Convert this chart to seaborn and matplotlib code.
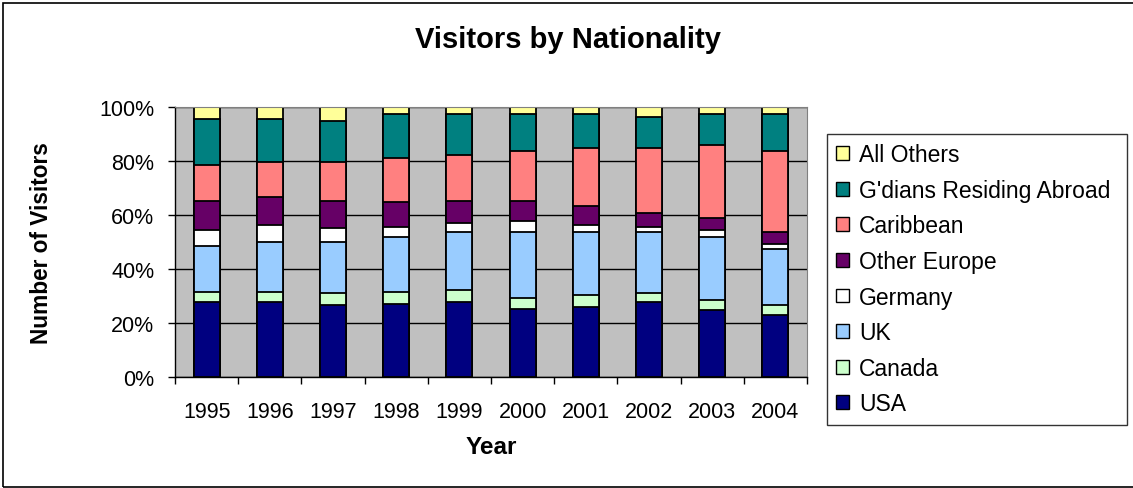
import matplotlib.pyplot as plt
import pandas as pd
import seaborn as sns
from matplotlib.patches import Patch, Rectangle

# data (share of visitors, %)
years = ["1995", "1996", "1997", "1998", "1999", "2000", "2001", "2002", "2003", "2004"]
usa = [27.8, 27.8, 26.5, 27.1, 27.8, 25.3, 25.9, 27.8, 24.8, 22.8]
canada = [3.8, 3.8, 4.5, 4.4, 4.3, 3.8, 4.3, 3.4, 3.6, 3.8]
uk = [17.0, 18.5, 19.1, 20.4, 21.7, 24.7, 23.6, 22.6, 23.5, 21.0]
germany = [5.8, 6.2, 5.0, 3.7, 3.4, 3.9, 2.5, 1.6, 2.5, 1.6]
other_europe = [10.7, 10.2, 10.2, 9.1, 8.1, 7.6, 7.1, 5.3, 4.5, 4.6]
caribbean = [13.5, 13.3, 14.5, 16.3, 17.0, 18.3, 21.5, 24.2, 27.2, 29.8]
gdians_abroad = [17.1, 15.9, 15.1, 16.5, 15.2, 13.9, 12.6, 11.4, 11.4, 13.9]
all_others = [4.3, 4.3, 5.1, 2.5, 2.5, 2.5, 2.5, 3.7, 2.5, 2.5]

series_names = ["USA", "Canada", "UK", "Germany", "Other Europe",
                "Caribbean", "G'dians Residing Abroad", "All Others"]
colors = ["#000080", "#CCFFCC", "#99CCFF", "#FFFFFF", "#660066",
          "#FF8080", "#008080", "#FFFF99"]

df = pd.DataFrame(
    [usa, canada, uk, germany, other_europe, caribbean, gdians_abroad, all_others],
    index=series_names, columns=years,
).T
# 100% stacked -> normalise and accumulate
df = df.div(df.sum(axis=1), axis=0) * 100
cum = df.cumsum(axis=1)

plt.rcParams["font.family"] = ["Liberation Sans", "DejaVu Sans"]

fig = plt.figure(figsize=(11.33, 4.89), dpi=100)
ax = fig.add_axes([0.1545, 0.227, 0.5578, 0.552])
ax.set_facecolor("#C0C0C0")

# draw from the top of the stack downward so each lower segment covers the rest
for name, color in reversed(list(zip(series_names, colors))):
    sns.barplot(
        x=years, y=cum[name].values, color=color, width=0.41,
        edgecolor="black", linewidth=1.3, saturation=1, ax=ax,
    )

ax.set_ylim(0, 100)
ax.set_xlim(-0.5, len(years) - 0.5)
ax.set_yticks(range(0, 101, 20))
ax.set_yticklabels([f"{v}%" for v in range(0, 101, 20)], fontsize=15.5)
ax.yaxis.grid(True, color="black", linewidth=1)
ax.set_axisbelow(True)

# excel style ticks between categories
ax.set_xticks(range(len(years)))
ax.set_xticklabels(years, fontsize=15.5)
ax.set_xticks([i - 0.5 for i in range(len(years) + 1)], minor=True)
ax.tick_params(axis="x", which="major", length=0, pad=17)
ax.tick_params(axis="x", which="minor", length=5, width=1, color="black")
ax.tick_params(axis="y", length=5, width=1, pad=10)

for side in ["top", "right"]:
    ax.spines[side].set_color("#808080")
    ax.spines[side].set_linewidth(0.8)
for side in ["left", "bottom"]:
    ax.spines[side].set_color("black")
    ax.spines[side].set_linewidth(1)
ax.set_xlabel("")
ax.set_ylabel("")

fig.text(0.5013, 0.918, "Visitors by Nationality", fontsize=21, fontweight="bold",
         ha="center", va="center")
fig.text(0.037, 0.503, "Number of Visitors", fontsize=16.3, fontweight="bold",
         rotation=90, ha="center", va="center")
fig.text(0.434, 0.084, "Year", fontsize=17.5, fontweight="bold",
         ha="center", va="center")

# legend, top entry = top of stack
handles = [Patch(facecolor=c, edgecolor="black", linewidth=1)
           for c in reversed(colors)]
fig.legend(
    handles, list(reversed(series_names)),
    loc="upper left", bbox_to_anchor=(0.730, 0.724, 0.2648, 0), mode="expand",
    fontsize=16.5, frameon=True, fancybox=False, edgecolor="black",
    handlelength=0.55, handleheight=0.55, handletextpad=0.45,
    labelspacing=0.55, borderpad=0.4, borderaxespad=0,
).get_frame().set_linewidth(1)

# outer chart border
fig.patches.append(Rectangle((3 / 1133, 1 / 489), 1.2, 484 / 489, transform=fig.transFigure,
                             fill=False, edgecolor="black", linewidth=1.2))

fig.savefig("out.png", dpi=100)
